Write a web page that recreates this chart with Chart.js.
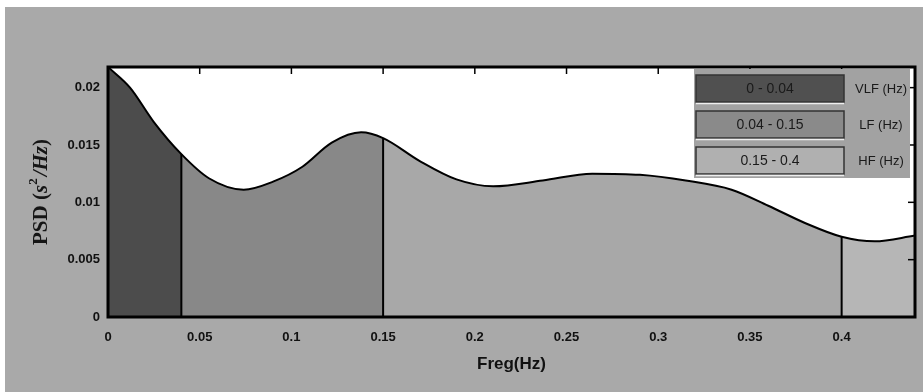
<!DOCTYPE html>
<html>
<head>
<meta charset="utf-8">
<script src="https://cdn.jsdelivr.net/npm/chart.js@4.4.0/dist/chart.umd.min.js"></script>
<style>
    html, body { margin: 0; padding: 0; background: #fff; }
    #wrap { position: absolute; left: 5px; top: 7px; width: 918px; height: 385px; background: #a9a9a9; }
</style>
</head>
<body>
<div id="wrap"><canvas id="psdChart" width="918" height="385"></canvas></div>
<script>
// values
const freqHz = [0, 0.012, 0.025, 0.04, 0.055, 0.074, 0.09, 0.106, 0.122, 0.138, 0.15, 0.17, 0.19, 0.21, 0.237, 0.264, 0.29, 0.315, 0.34, 0.36, 0.38, 0.4, 0.418, 0.44];
const psd    = [0.0218, 0.0200, 0.0170, 0.0142, 0.0121, 0.0111, 0.0118, 0.0131, 0.0152, 0.0161, 0.0156, 0.0136, 0.0120, 0.0114, 0.0119, 0.0125, 0.0124, 0.0119, 0.0111, 0.0097, 0.0082, 0.0070, 0.0066, 0.0071];

const xTicks = [0, 0.05, 0.1, 0.15, 0.2, 0.25, 0.3, 0.35, 0.4];
const yTicks = [0, 0.005, 0.01, 0.015, 0.02];

const bandEdges = [0, 0.04, 0.15, 0.4, 0.44];
const bandColors = ['#4c4c4c', '#888888', '#a8a8a8', '#b6b6b6'];
const bandRanges = ['0 - 0.04', '0.04 - 0.15', '0.15 - 0.4'];
const bandNames = ['VLF (Hz)', 'LF (Hz)', 'HF (Hz)'];
const legendColors = ['#505050', '#8a8a8a', '#b0b0b0'];

const curve = freqHz.map((f, i) => ({ x: f, y: psd[i] }));
const psdAt = f => psd[freqHz.indexOf(f)];
const dividers = [0.04, 0.15, 0.4].map(f => [{ x: f, y: 0 }, { x: f, y: psdAt(f) }]);

const bandFill = (c) => {
    const { chart } = c;
    const area = chart.chartArea;
    if (!area) return bandColors[2];
    const xs = chart.scales.x;
    const w = area.right - area.left;
    const g = chart.ctx.createLinearGradient(area.left, 0, area.right, 0);
    for (let i = 0; i < bandColors.length; i++) {
        const a = Math.min(1, Math.max(0, (xs.getPixelForValue(bandEdges[i]) - area.left) / w));
        const b = Math.min(1, Math.max(0, (xs.getPixelForValue(bandEdges[i + 1]) - area.left) / w));
        g.addColorStop(a, bandColors[i]);
        g.addColorStop(b, bandColors[i]);
    }
    return g;
};

const framePlugin = {
    id: 'frame',
    beforeDatasetsDraw(chart) {
        const { ctx, chartArea: a } = chart;
        ctx.save();
        ctx.fillStyle = '#ffffff';
        ctx.fillRect(a.left, a.top, a.right - a.left, a.bottom - a.top);
        ctx.restore();
    },
    afterDatasetsDraw(chart) {
        const { ctx, chartArea: a, scales } = chart;
        ctx.save();
        ctx.strokeStyle = '#000';
        ctx.lineWidth = 1.5;
        // inward ticks on the top and right edges
        xTicks.forEach(v => {
            const px = scales.x.getPixelForValue(v);
            ctx.beginPath();
            ctx.moveTo(px, a.top);
            ctx.lineTo(px, a.top + 7);
            ctx.stroke();
        });
        yTicks.forEach(v => {
            const py = scales.y.getPixelForValue(v);
            ctx.beginPath();
            ctx.moveTo(a.right, py);
            ctx.lineTo(a.right - 7, py);
            ctx.stroke();
        });
        ctx.lineWidth = 3;
        ctx.strokeRect(a.left, a.top, a.right - a.left, a.bottom - a.top);

        // band legend, top right
        const px = a.right - 221, py = a.top + 2;
        ctx.fillStyle = '#a2a2a2';
        ctx.fillRect(px, py, 216, 109);
        ctx.textBaseline = 'middle';
        bandRanges.forEach((txt, i) => {
            const by = py + 6 + i * 36;
            ctx.fillStyle = legendColors[i];
            ctx.fillRect(px + 2, by, 148, 28);
            ctx.lineWidth = 1.5;
            ctx.strokeStyle = '#333';
            ctx.strokeRect(px + 2, by, 148, 27);
            ctx.strokeStyle = '#eee';
            ctx.beginPath();
            ctx.moveTo(px + 2, by + 28.5);
            ctx.lineTo(px + 150, by + 28.5);
            ctx.stroke();
            ctx.fillStyle = '#1a1a1a';
            ctx.font = '14px "Liberation Sans", Arial, sans-serif';
            ctx.textAlign = 'center';
            ctx.fillText(txt, px + 76, by + 14);
            ctx.font = '13px "Liberation Sans", Arial, sans-serif';
            ctx.fillText(bandNames[i], px + 187, by + 14);
        });
        ctx.restore();
    },
    afterDraw(chart) {
        // y title with italic units, drawn rotated
        const { ctx, chartArea: a } = chart;
        const parts = [
            { t: 'PSD (', f: 'bold 21px "Liberation Serif", serif', dy: 0 },
            { t: 's', f: 'italic bold 21px "Liberation Serif", serif', dy: 0 },
            { t: '2', f: 'bold 13px "Liberation Serif", serif', dy: -8 },
            { t: '/Hz', f: 'italic bold 21px "Liberation Serif", serif', dy: 0 },
            { t: ')', f: 'bold 21px "Liberation Serif", serif', dy: 0 }
        ];
        ctx.save();
        let total = 0;
        parts.forEach(p => { ctx.font = p.f; p.w = ctx.measureText(p.t).width + (p.t === '2' ? 2 : 0); total += p.w; });
        ctx.translate(37, (a.top + a.bottom) / 2);
        ctx.rotate(-Math.PI / 2);
        ctx.fillStyle = '#151515';
        ctx.textBaseline = 'middle';
        ctx.textAlign = 'left';
        let x = -total / 2;
        parts.forEach(p => {
            ctx.font = p.f;
            ctx.fillText(p.t, x, p.dy);
            x += p.w;
        });
        ctx.restore();
    }
};

const lineDs = (data) => ({
    data: data,
    showLine: true,
    borderColor: '#000',
    borderWidth: 2,
    pointRadius: 0,
    fill: false,
    order: 0
});

new Chart(document.getElementById('psdChart'), {
    type: 'scatter',
    data: {
        datasets: [
            {
                data: curve,
                showLine: true,
                borderColor: '#000',
                borderWidth: 2,
                pointRadius: 0,
                cubicInterpolationMode: 'monotone',
                fill: 'origin',
                backgroundColor: bandFill,
                order: 1
            },
            ...dividers.map(d => lineDs(d))
        ]
    },
    options: {
        responsive: false,
        animation: false,
        layout: { padding: { top: 60, right: 8, left: 0, bottom: 0 } },
        plugins: { legend: { display: false }, tooltip: { enabled: false } },
        scales: {
            x: {
                type: 'linear',
                min: 0,
                max: 0.44,
                afterBuildTicks: s => { s.ticks = xTicks.map(v => ({ value: v })); },
                afterFit: s => { s.height = 75; },
                grid: { display: false, drawTicks: false },
                border: { display: false },
                ticks: {
                    padding: 13,
                    color: '#111',
                    font: { family: '"Liberation Sans", Arial, sans-serif', size: 13, weight: 'bold' },
                    callback: v => String(v)
                },
                title: {
                    display: true,
                    text: 'Freg(Hz)',
                    color: '#111',
                    padding: { top: 0, bottom: 17 },
                    font: { family: '"Liberation Sans", Arial, sans-serif', size: 17, weight: 'bold' }
                }
            },
            y: {
                min: 0,
                max: 0.0218,
                afterBuildTicks: s => { s.ticks = yTicks.map(v => ({ value: v })); },
                afterFit: s => { s.width = 103; },
                grid: { display: false, drawTicks: false },
                border: { display: false },
                ticks: {
                    padding: 8,
                    color: '#111',
                    font: { family: '"Liberation Sans", Arial, sans-serif', size: 13, weight: 'bold' },
                    callback: v => String(v)
                }
            }
        }
    },
    plugins: [framePlugin]
});
</script>
</body>
</html>
